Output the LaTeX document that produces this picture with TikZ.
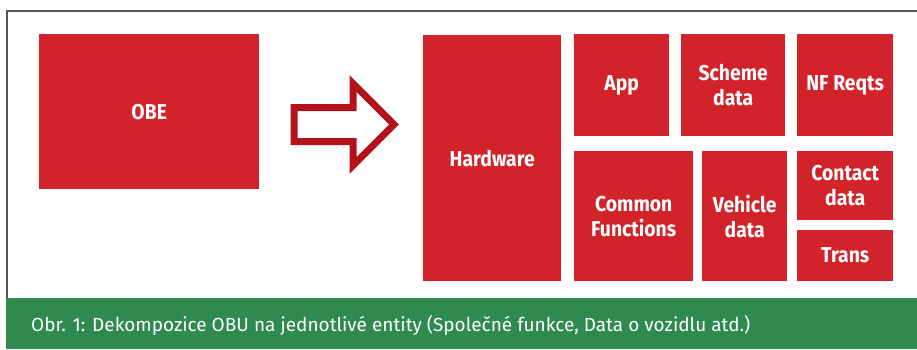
\documentclass[tikz,border=0pt]{standalone}
\usepackage{fontspec}
\setmainfont{Fira Sans}
\newfontfamily\partfont[FakeStretch=0.9]{Fira Sans}
\usetikzlibrary{positioning}
\definecolor{obured}{RGB}{210,35,42}
\definecolor{arrowred}{RGB}{180,18,27}
\definecolor{capgreen}{RGB}{46,138,78}
\definecolor{framegray}{RGB}{85,85,85}

\begin{document}
\begin{tikzpicture}[x=1pt,y=-1pt,
    part/.style={fill=obured, text=white, font=\partfont\bfseries\fontsize{21.5}{25}\selectfont,
      align=center, inner sep=0pt, anchor=north west}]
    \useasboundingbox (0,0) rectangle (917,349);

    % Frame and caption band
    \draw[framegray, line width=1.3] (7,298) -- (7,11) -- (917,11);%
    \fill[capgreen] (6,298) rectangle (917,349);%
    \node[anchor=west, text=white, inner sep=0pt] (caption) at (31,325)
      {\fontsize{19}{23}\selectfont Obr. 1: Dekompozice OBU na jednotlivé entity (Společné funkce, Data o vozidlu atd.)};%

    % Whole unit
    \node[part, minimum width=220, minimum height=155] (obe) at (39,34) {OBE};%

    % Arrow
    \draw[arrowred, line width=7, miter limit=10]
      (294,107.5) -- (353,107.5) -- (353,83.5) -- (394,124.5)
      -- (353,165.5) -- (353,141.5) -- (294,141.5) -- cycle;%

    % Parts
    \node[part, minimum width=138, minimum height=246] (hw) at (423,35) {Hardware};%
    \node[part, minimum width=95, minimum height=102] (app) at (574,34) {App};%
    \node[part, minimum width=104, minimum height=102] (scheme) at (681,34) {Scheme\\data};%
    \node[part, minimum width=96, minimum height=102] (nfr) at (797,34) {NF Reqts};%
    \node[part, minimum width=119, minimum height=130] (common) at (574,151) {Common\\Functions};%
    \node[part, minimum width=85, minimum height=130] (vehicle) at (702,151) {Vehicle\\data};%
    \node[part, minimum width=96, minimum height=69] (contact) at (797,151) {Contact\\data};%
    \node[part, minimum width=96, minimum height=51] (trans) at (797,230) {Trans};%
\end{tikzpicture}
\end{document}
